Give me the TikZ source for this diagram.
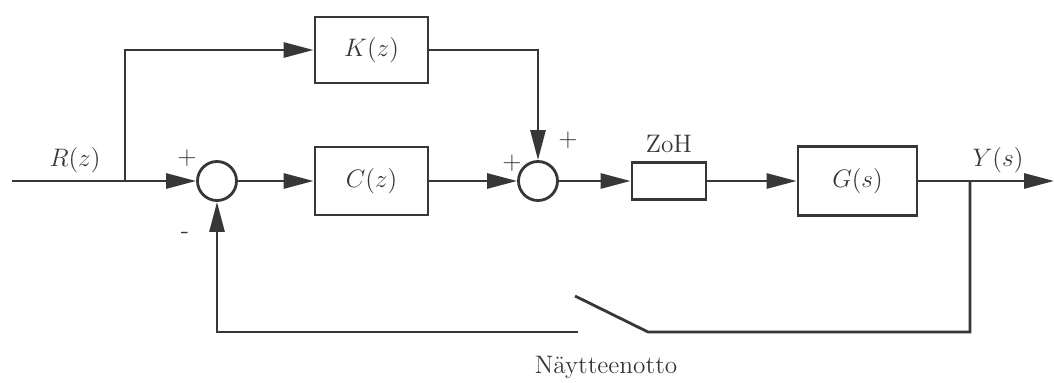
\documentclass[tikz,border=0pt]{standalone}
\usepackage{amsmath}
\usetikzlibrary{arrows.meta,positioning}
\definecolor{ink}{RGB}{55,55,55}

\begin{document}
\begin{tikzpicture}[>={Triangle[length=6mm,width=3mm]}, line width=1.6pt,
  block/.style={draw=ink, text=ink, font=\Large, inner sep=0pt},
  sum/.style={draw=ink, circle, minimum size=0.78cm, inner sep=0pt},
  sign/.style={text=ink, font=\Large}]
  \useasboundingbox (0,0) rectangle (21.08,-7.66);

  % blocks and summing junctions
  \node[sum] (s1) at (4.34,-3.62) {};
  \node[block, minimum width=2.26cm, minimum height=1.36cm] (C) at (7.43,-3.62) {$C(z)$};
  \node[block, minimum width=2.26cm, minimum height=1.32cm] (K) at (7.43,-1) {$K(z)$};
  \node[sum] (s2) at (10.76,-3.62) {};
  \node[block, minimum width=1.48cm, minimum height=0.74cm] (zoh) at (13.38,-3.62) {};
  \node[sign, above=0.02cm of zoh] (zohlab) {ZoH};
  \node[block, minimum width=2.38cm, minimum height=1.38cm] (G) at (17.15,-3.62) {$G(s)$};

  \coordinate (in) at (0.24,-3.62);
  \coordinate (br) at (2.5,-3.62);
  \coordinate (yb) at (19.4,-3.62);
  \coordinate (out) at (21.08,-3.62);
  \coordinate (swl) at (11.56,-6.64);
  \coordinate (swt) at (11.5,-5.92);
  \coordinate (swr) at (12.96,-6.64);

  % signals
  \draw[ink] (in) -- (br);
  \draw[ink, ->] (br) -- (s1);
  \draw[ink, ->] (br) |- (K);
  \draw[ink, ->] (K) -| (s2);
  \draw[ink, ->] (s1) -- (C);
  \draw[ink, ->] (C) -- (s2);
  \draw[ink, ->] (s2) -- (zoh);
  \draw[ink, ->] (zoh) -- (G);
  \draw[ink, ->] (G) -- (out);

  % sampled feedback
  \draw[ink] (yb) |- (swr) -- (swt);
  \draw[ink, ->] (swl) -| (s1);

  % labels
  \node[sign] (rlab) at (1.5,-3.2) {$R(z)$};
  \node[sign] (ylab) at (19.96,-3.2) {$Y(s)$};
  \node[sign] (p1) at (3.74,-3.16) {$+$};
  \node[sign] (m1) at (3.7,-4.7) {-};
  \node[sign] (p2) at (10.24,-3.26) {$+$};
  \node[sign] (p3) at (11.36,-2.8) {$+$};
  \node[sign] (samp) at (12.12,-7.34) {Näytteenotto};
\end{tikzpicture}
\end{document}
